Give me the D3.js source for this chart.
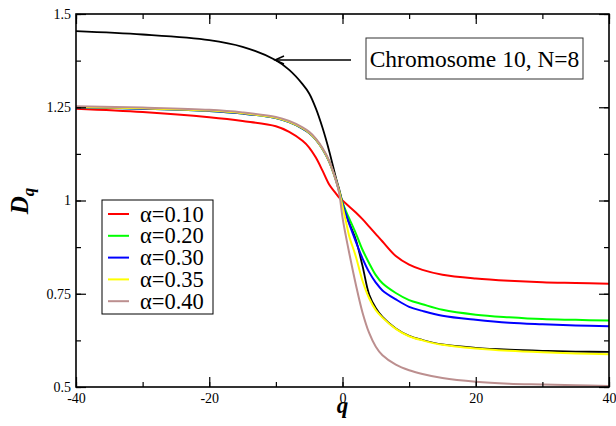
<!DOCTYPE html>
<html>
<head>
<meta charset="utf-8">
<script src="https://cdn.jsdelivr.net/npm/d3@7"></script>
<style>
  body { margin: 0; background: #fff; }
  svg { display: block; }
</style>
</head>
<body>
<div id="chart"></div>
<script>
// q grid shared by every series
const qValues = [-40, -30, -20, -15, -10, -8, -6, -5, -4, -3, -2, -1, -0.5, 0, 0.5, 1, 2, 3, 4, 5, 6, 8, 10, 12, 15, 20, 25, 30, 35, 40];

// D_q
const chromosome = [1.454, 1.445, 1.430, 1.412, 1.376, 1.350, 1.312, 1.287, 1.247, 1.195, 1.133, 1.062, 1.030, 0.995, 0.965, 0.940, 0.895, 0.825, 0.748, 0.712, 0.688, 0.657, 0.637, 0.626, 0.614, 0.605, 0.600, 0.597, 0.595, 0.594];
const alpha010 = [1.246, 1.237, 1.223, 1.213, 1.199, 1.184, 1.160, 1.142, 1.115, 1.080, 1.043, 1.019, 1.008, 1.000, 0.992, 0.984, 0.968, 0.950, 0.930, 0.910, 0.890, 0.851, 0.828, 0.814, 0.801, 0.791, 0.785, 0.781, 0.779, 0.777];
const alpha020 = [1.250, 1.246, 1.240, 1.233, 1.221, 1.210, 1.193, 1.181, 1.163, 1.138, 1.104, 1.055, 1.025, 0.995, 0.972, 0.952, 0.912, 0.868, 0.832, 0.800, 0.778, 0.752, 0.733, 0.722, 0.707, 0.694, 0.687, 0.682, 0.680, 0.678];
const alpha030 = [1.250, 1.246, 1.240, 1.233, 1.221, 1.210, 1.193, 1.181, 1.163, 1.138, 1.104, 1.055, 1.025, 0.992, 0.964, 0.938, 0.890, 0.845, 0.808, 0.780, 0.759, 0.735, 0.715, 0.704, 0.691, 0.680, 0.672, 0.668, 0.665, 0.663];
const alpha035 = [1.251, 1.247, 1.241, 1.234, 1.222, 1.211, 1.194, 1.182, 1.164, 1.139, 1.105, 1.055, 1.025, 0.985, 0.945, 0.905, 0.850, 0.785, 0.738, 0.706, 0.686, 0.656, 0.636, 0.625, 0.613, 0.603, 0.597, 0.593, 0.590, 0.588];
const alpha040 = [1.253, 1.249, 1.243, 1.236, 1.224, 1.213, 1.196, 1.184, 1.166, 1.141, 1.107, 1.055, 1.020, 0.955, 0.905, 0.860, 0.775, 0.700, 0.645, 0.608, 0.585, 0.560, 0.545, 0.535, 0.524, 0.514, 0.509, 0.507, 0.505, 0.503];

const legendLabels = ['α=0.10', 'α=0.20', 'α=0.30', 'α=0.35', 'α=0.40'];
const xTicks = [-40, -20, 0, 20, 40];
const yTicks = [0.5, 0.75, 1, 1.25, 1.5];
const yTickLabels = ['0.5', '0.75', '1', '1.25', '1.5'];
const annotation = 'Chromosome 10, N=8';

// layout
const W = 616, H = 426;
const PAD_L = 76, PAD_R = 609, PAD_T = 14, PAD_B = 387;
const SERIF = "'Liberation Serif', 'Times New Roman', serif";

const svg = d3.select('#chart').append('svg')
  .attr('width', W).attr('height', H)
  .attr('viewBox', `0 0 ${W} ${H}`);

const x = d3.scaleLinear().domain([-40, 40]).range([PAD_L, PAD_R]);
const y = d3.scaleLinear().domain([0.5, 1.5]).range([PAD_B, PAD_T]);

// series, drawn black first so the coloured ones sit on top
const series = [
  { name: 'chromosome', values: chromosome, color: '#000000', width: 1.8 },
  { name: legendLabels[0], values: alpha010, color: '#ff0000', width: 2 },
  { name: legendLabels[1], values: alpha020, color: '#00ff00', width: 2 },
  { name: legendLabels[2], values: alpha030, color: '#0000ff', width: 2 },
  { name: legendLabels[3], values: alpha035, color: '#ffff00', width: 2 },
  { name: legendLabels[4], values: alpha040, color: '#bc8f8f', width: 2 }
];

const line = d3.line()
  .x(d => x(d[0]))
  .y(d => y(d[1]))
  .curve(d3.curveCatmullRom.alpha(0.5));

svg.append('defs').append('clipPath').attr('id', 'plotClip')
  .append('rect')
  .attr('x', PAD_L).attr('y', PAD_T)
  .attr('width', PAD_R - PAD_L).attr('height', PAD_B - PAD_T);

svg.append('g').attr('clip-path', 'url(#plotClip)')
  .selectAll('path').data(series).enter().append('path')
  .attr('d', s => line(qValues.map((q, i) => [q, s.values[i]])))
  .attr('fill', 'none')
  .attr('stroke', s => s.color)
  .attr('stroke-width', s => s.width)
  .attr('stroke-linejoin', 'round');

// axes: ticks inward on all four sides
const xMinor = d3.range(-40, 41, 10);
const yMinor = d3.range(0.5, 1.501, 0.125);

function addAxis(axis, transform) {
  const g = svg.append('g').attr('transform', transform).call(axis);
  g.select('.domain').remove();
  g.selectAll('line').attr('stroke', '#000').attr('stroke-width', 1.2);
  return g;
}

// bottom
addAxis(d3.axisTop(x).tickValues(xMinor).tickSize(5).tickFormat(''), `translate(0,${PAD_B})`);
const gx = addAxis(d3.axisTop(x).tickValues(xTicks).tickSize(10).tickFormat(d => String(d)), `translate(0,${PAD_B})`);
gx.selectAll('text')
  .attr('y', 16).attr('dy', 0)
  .attr('font-family', SERIF).attr('font-size', 14).attr('fill', '#000');
// top
addAxis(d3.axisBottom(x).tickValues(xMinor).tickSize(5).tickFormat(''), `translate(0,${PAD_T})`);
addAxis(d3.axisBottom(x).tickValues(xTicks).tickSize(10).tickFormat(''), `translate(0,${PAD_T})`);
// left
addAxis(d3.axisRight(y).tickValues(yMinor).tickSize(5).tickFormat(''), `translate(${PAD_L},0)`);
const gy = addAxis(d3.axisRight(y).tickValues(yTicks).tickSize(10).tickFormat((d, i) => yTickLabels[i]), `translate(${PAD_L},0)`);
gy.selectAll('text')
  .attr('x', -5).attr('text-anchor', 'end').attr('dy', '0.32em')
  .attr('font-family', SERIF).attr('font-size', 14).attr('fill', '#000');
// right
addAxis(d3.axisLeft(y).tickValues(yMinor).tickSize(5).tickFormat(''), `translate(${PAD_R},0)`);
addAxis(d3.axisLeft(y).tickValues(yTicks).tickSize(10).tickFormat(''), `translate(${PAD_R},0)`);

// frame
svg.append('rect')
  .attr('x', PAD_L).attr('y', PAD_T)
  .attr('width', PAD_R - PAD_L).attr('height', PAD_B - PAD_T)
  .attr('fill', 'none').attr('stroke', '#000').attr('stroke-width', 1.6);

// axis titles
const yTitle = svg.append('text')
  .attr('transform', 'translate(28,201) rotate(-90)')
  .attr('text-anchor', 'middle')
  .attr('font-family', SERIF).attr('font-weight', 'bold').attr('font-style', 'italic')
  .attr('fill', '#000');
yTitle.append('tspan').attr('font-size', 25).text('D');
yTitle.append('tspan').attr('font-size', 17).attr('dy', 6).text('q');

svg.append('text')
  .attr('x', x(0)).attr('y', 413)
  .attr('text-anchor', 'middle')
  .attr('font-family', SERIF).attr('font-weight', 'bold').attr('font-style', 'italic')
  .attr('font-size', 23).attr('fill', '#000')
  .text('q');

// legend
const legend = svg.append('g').attr('transform', 'translate(102,200)');
legend.append('rect')
  .attr('width', 111).attr('height', 114)
  .attr('fill', '#fff').attr('stroke', '#000').attr('stroke-width', 1);
const items = legend.selectAll('g.item').data(series.slice(1)).enter().append('g')
  .attr('class', 'item')
  .attr('transform', (d, i) => `translate(0,${14 + i * 21.8})`);
items.append('line')
  .attr('x1', 6).attr('x2', 27)
  .attr('stroke', d => d.color).attr('stroke-width', 2);
items.append('text')
  .attr('x', 38).attr('dy', '0.34em')
  .attr('font-family', SERIF).attr('font-size', 22.5).attr('fill', '#000')
  .text(d => d.name);

// annotation box and arrow
const note = svg.append('g').attr('transform', 'translate(366,38)');
note.append('rect')
  .attr('width', 217).attr('height', 41)
  .attr('fill', '#fff').attr('stroke', '#333').attr('stroke-width', 1);
note.append('text')
  .attr('x', 108.5).attr('y', 20.5).attr('dy', '0.35em')
  .attr('text-anchor', 'middle')
  .attr('font-family', SERIF).attr('font-size', 23.5).attr('fill', '#000')
  .text(annotation);

svg.append('line')
  .attr('x1', 351).attr('y1', 60).attr('x2', 275).attr('y2', 60)
  .attr('stroke', '#000').attr('stroke-width', 1.5);
svg.append('path')
  .attr('d', 'M284,56 L275,60 L284,64')
  .attr('fill', 'none').attr('stroke', '#000').attr('stroke-width', 1.5);
</script>
</body>
</html>
